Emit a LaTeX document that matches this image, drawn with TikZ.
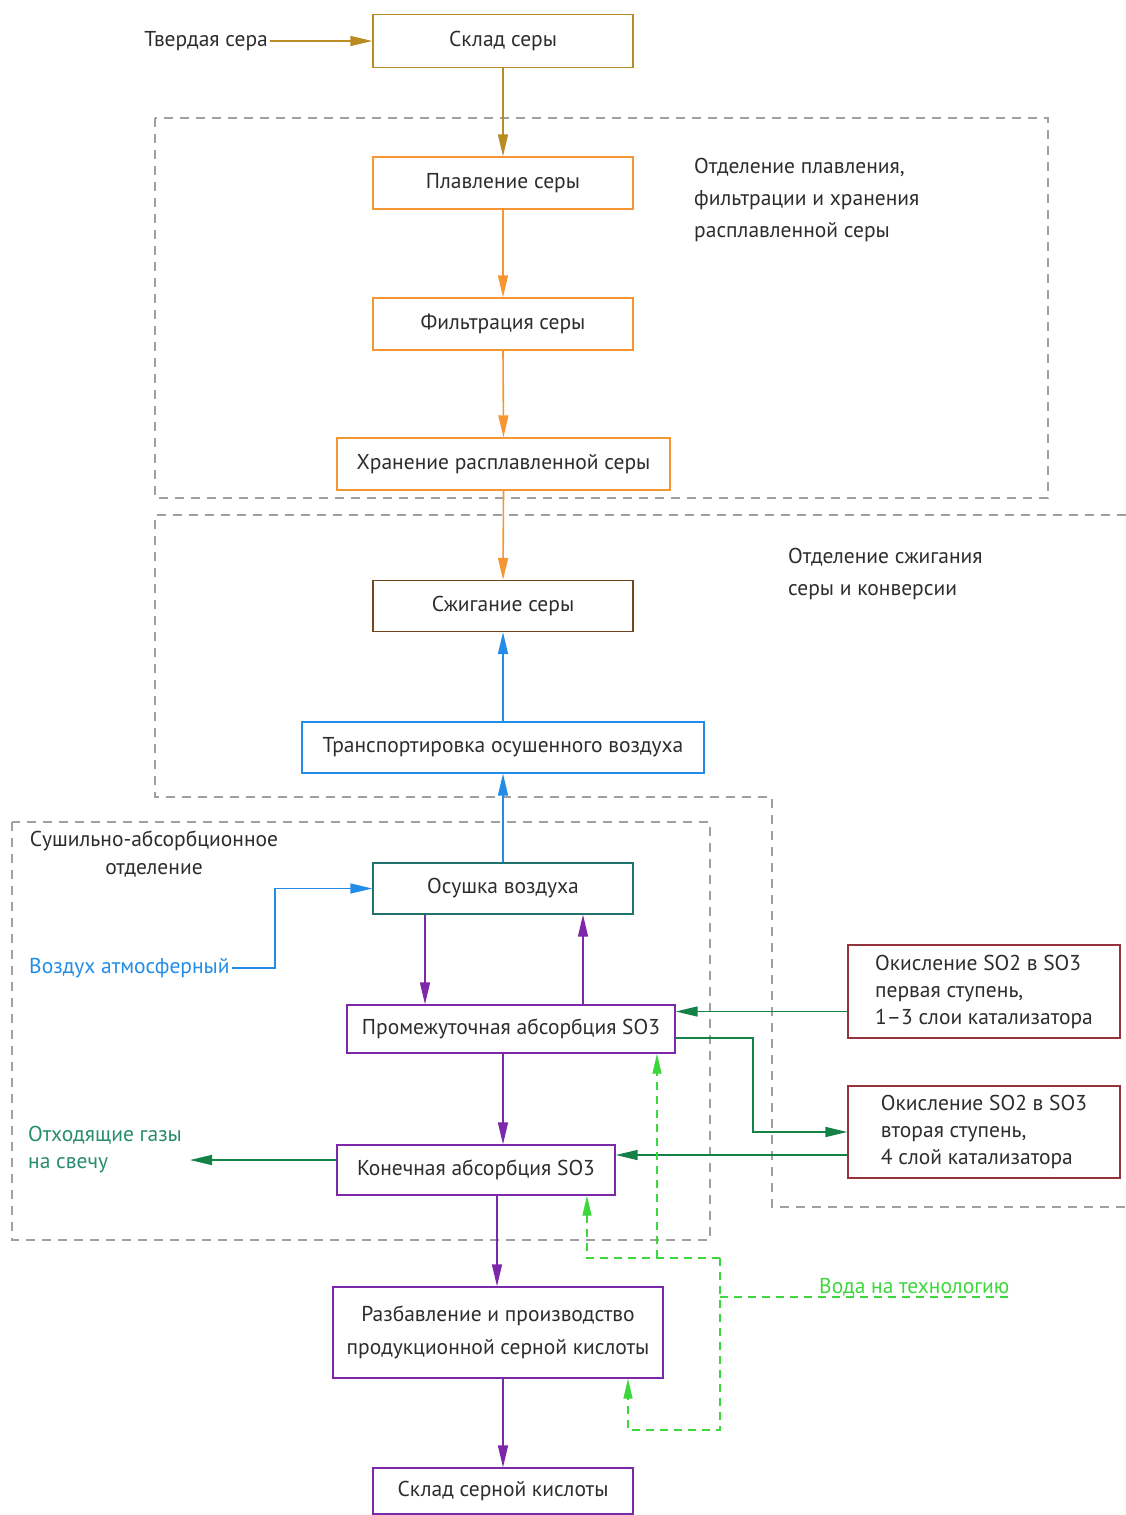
\documentclass[tikz,border=0pt]{standalone}
\usepackage{fontspec}
\setmainfont{PT Sans}
\usepackage{xcolor}
\usetikzlibrary{arrows.meta,positioning,calc}
\definecolor{ink}{RGB}{45,45,45}
\definecolor{gold}{RGB}{185,140,35}
\definecolor{amber}{RGB}{245,150,50}
\definecolor{rust}{RGB}{115,70,30}
\definecolor{sky}{RGB}{35,140,230}
\definecolor{teal}{RGB}{30,115,110}
\definecolor{plum}{RGB}{125,40,170}
\definecolor{wine}{RGB}{150,50,60}
\definecolor{gas}{RGB}{20,130,70}
\definecolor{gastext}{RGB}{40,140,110}
\definecolor{lime}{RGB}{60,215,60}

\begin{document}
\begin{tikzpicture}[x=1pt,y=-1pt,font=\fontsize{21.5}{27}\selectfont,
  box/.style={draw=#1,line width=1.4pt,text=ink,align=center,inner sep=3pt},
  zone/.style={gray!75,line width=1.2pt,dash pattern=on 9pt off 7pt},
  flow/.style={line width=1.6pt,-{Triangle[length=22pt,width=10pt]}},
  water/.style={lime,line width=1.3pt,dash pattern=on 8pt off 6pt},
  label/.style={text=ink,align=left,inner sep=2pt}]
\useasboundingbox (0,0) rectangle (1126,1515);
% department outlines
\draw[zone] (155,118) rectangle (1048,498);
\draw[zone] (1126,515) -- (155,515) -- (155,797) -- (772,797) -- (772,1207) -- (1126,1207);
\draw[zone] (12,822) rectangle (710,1240);
\node[label,anchor=north west,font=\fontsize{21.5}{32}\selectfont] (zmelt) at (692,156)
  {Отделение плавления,\\фильтрации и хранения\\расплавленной серы};
\node[label,anchor=north west,font=\fontsize{21.5}{32}\selectfont] (zburn) at (786,546)
  {Отделение сжигания\\серы и конверсии};
\node[label,align=center,anchor=north,font=\fontsize{21.5}{28}\selectfont] (zdry) at (154,829)
  {Сушильно-абсорбционное\\отделение};
% process boxes
\node[box=gold,minimum width=260pt,minimum height=53pt] (sklad) at (503,41) {Склад серы};
\node[box=amber,minimum width=260pt,minimum height=52pt] (plav) at (503,183) {Плавление серы};
\node[box=amber,minimum width=260pt,minimum height=52pt] (filtr) at (503,324) {Фильтрация серы};
\node[box=amber,minimum width=333pt,minimum height=52pt] (hran) at (503.5,464) {Хранение расплавленной серы};
\node[box=rust,minimum width=260pt,minimum height=51pt] (szhig) at (503,606) {Сжигание серы};
\node[box=sky,minimum width=402pt,minimum height=51pt] (transp) at (503,747.5) {Транспортировка осушенного воздуха};
\node[box=teal,minimum width=260pt,minimum height=51pt] (osush) at (503,888.5) {Осушка воздуха};
\node[box=plum,minimum width=328pt,minimum height=48pt] (promezh) at (511,1029) {Промежуточная абсорбция SO3};
\node[box=wine,minimum width=272pt,minimum height=93pt,align=left] (okisl1) at (984,991.5)
  {Окисление SO2 в SO3\\первая ступень,\\1–3 слои катализатора};
\node[box=wine,minimum width=272pt,minimum height=92pt,align=left] (okisl2) at (984,1132)
  {Окисление SO2 в SO3\\вторая ступень,\\4 слой катализатора};
\node[box=plum,minimum width=278pt,minimum height=50pt] (konech) at (476,1170) {Конечная абсорбция SO3};
\node[box=plum,minimum width=330pt,minimum height=91pt,font=\fontsize{21.5}{33}\selectfont] (razb) at (498,1332.5)
  {Разбавление и производство\\продукционной серной кислоты};
\node[box=plum,minimum width=260pt,minimum height=46pt] (skladk) at (503,1491) {Склад серной кислоты};
% inputs and outputs
\node[label,anchor=east] (tverd) at (270,41) {Твердая сера};
\node[label,anchor=west,text=sky] (vozduh) at (27,968) {Воздух атмосферный};
\node[label,anchor=north west,text=gastext] (otkhod) at (26,1124) {Отходящие газы\\на свечу};
\node[label,anchor=south west,text=lime,inner sep=1pt] (voda) at (818,1297) {Вода на технологию};
\coordinate (vz) at (275,968);
\coordinate (gasout) at (190,1160);
\coordinate (wtop) at (720,1258);
\coordinate (wtap) at (720,1297);
\coordinate (wbot) at (720,1430);
% sulphur line
\draw[flow,gold] (tverd.east) -- (sklad.west);
\draw[flow,gold] (sklad.south) -- (plav.north);
\foreach \a/\b in {plav/filtr,filtr/hran,hran/szhig}
  \draw[flow,amber] (\a.south) -- (\b.north);
% air line
\draw[flow,sky] (vozduh.east) -- (vz) |- (osush.west);
\draw[flow,sky] (osush.north) -- (transp.south);
\draw[flow,sky] (transp.north) -- (szhig.south);
% acid circulation
\draw[flow,plum] ([xshift=-78pt]osush.south) -- ([xshift=-78pt]osush.south |- promezh.north);
\draw[flow,plum] ([xshift=80pt]osush.south |- promezh.north) -- ([xshift=80pt]osush.south);
\draw[flow,plum] ([xshift=-8pt]promezh.south) -- ([xshift=-8pt]promezh.south |- konech.north);
\draw[flow,plum] ([xshift=21pt]konech.south) -- ([xshift=21pt]konech.south |- razb.north);
\draw[flow,plum] ([xshift=5pt]razb.south) -- ([xshift=5pt]razb.south |- skladk.north);
% gas line
\draw[flow,gas] ([yshift=-20pt]okisl1.west) -- ([yshift=-20pt]okisl1.west -| promezh.east);
\draw[flow,gas] ([yshift=-9pt]promezh.east) -- ++(77,0) |- (okisl2.west);
\draw[flow,gas] ([yshift=-23pt]okisl2.west) -- ([yshift=-23pt]okisl2.west -| konech.east);
\draw[flow,gas] ([yshift=10pt]konech.west) -- (gasout);
% process water
\draw[water] (wtap) -- (voda.south east);
\draw[water,-{Triangle[length=20pt,width=9pt]}] (wtop) -- ([xshift=111pt]konech.south |- wtop) -- ([xshift=111pt]konech.south);
\draw[water,-{Triangle[length=20pt,width=9pt]}] ([xshift=146pt]promezh.south |- wtop) -- ([xshift=146pt]promezh.south);
\draw[water,-{Triangle[length=20pt,width=9pt]}] (wtop) -- (wbot) -- ([xshift=130pt]razb.south |- wbot) -- ([xshift=130pt]razb.south);
\end{tikzpicture}
\end{document}
